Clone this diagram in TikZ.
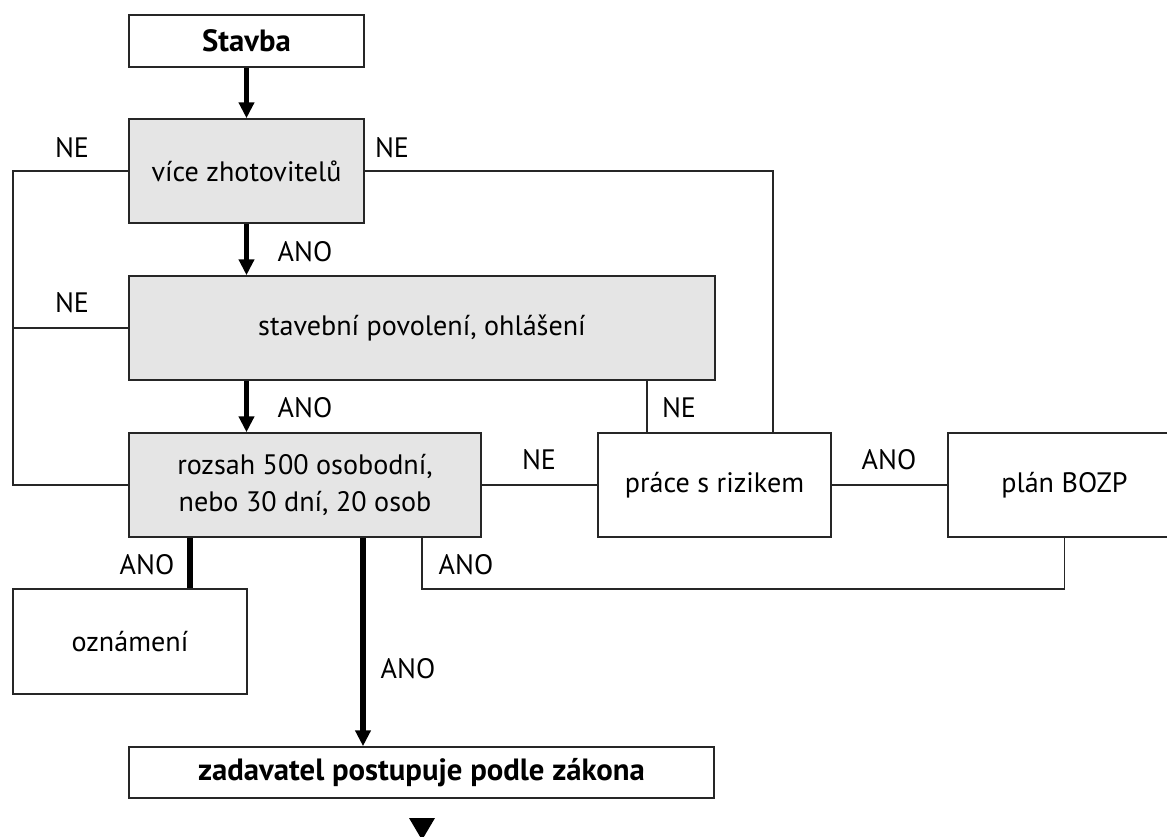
\documentclass[tikz,border=0pt]{standalone}
\usepackage{fontspec}
\setmainfont{PT Sans}
\usetikzlibrary{arrows.meta}

\begin{document}
\begin{tikzpicture}[x=0.02cm,y=-0.02cm,
    box/.style={draw=black!85,line width=0.9pt,fill=white,inner sep=2pt,align=center,font=\fontsize{16}{21}\selectfont},
    test/.style={box,fill=black!10},
    flow/.style={line width=3pt,-{Triangle[width=8.5pt,length=9pt]}},
    bar/.style={line width=3pt},
    link/.style={draw=black!85,line width=0.9pt},
    lbl/.style={font=\fontsize{16}{21}\selectfont}]
    \useasboundingbox (0,0) rectangle (1167,837);
    \clip (0,0) rectangle (1167,837);
    % boxes
    \node[box,minimum width=4.7cm,minimum height=1.04cm] (stavba) at (246.5,41) {\fontsize{17.5}{21}\bfseries Stavba};
    \node[test,minimum width=4.7cm,minimum height=2.08cm] (vice) at (246.5,171) {více zhotovitelů};
    \node[test,minimum width=11.72cm,minimum height=2.08cm] (stavebni) at (422,328) {stavební povolení, ohlášení};
    \node[test,minimum width=7.04cm,minimum height=2.08cm] (rozsah) at (305,485) {rozsah 500 osobodní,\\nebo 30 dní, 20 osob};
    \node[box,minimum width=4.66cm,minimum height=2.08cm] (prace) at (714.5,485) {práce s rizikem};
    \node[box,minimum width=4.66cm,minimum height=2.08cm] (plan) at (1064.5,485) {plán BOZP};
    \node[box,minimum width=4.68cm,minimum height=2.1cm] (oznameni) at (130,641.5) {oznámení};
    \node[box,minimum width=11.7cm,minimum height=1.02cm] (zadavatel) at (421.5,772.5) {\fontsize{17.5}{21}\bfseries zadavatel postupuje podle zákona};
    % helper points
    \coordinate (wl) at (13,171);
    \coordinate (vr) at (773,0);
    \coordinate (sn) at (647,0);
    \coordinate (ab) at (422,589);
    \coordinate (oz) at (190,0);
    \coordinate (zd) at (363,0);
    % main flow
    \draw[flow] (stavba) -- (vice);
    \draw[flow] (vice.south) -- (vice.south |- stavebni.north);
    \draw[flow] (vice.south |- stavebni.south) -- (vice.south |- rozsah.north);
    \draw[bar] (oz |- rozsah.south) -- (oz |- oznameni.north);
    \draw[flow] (zd |- rozsah.south) -- (zd |- zadavatel.north);
    % side branches
    \draw[link] (vice.west) -- (wl) |- (rozsah.west);
    \draw[link] (stavebni.west) -- (wl |- stavebni.west);
    \draw[link] (vice.east) -| (vr |- prace.north);
    \draw[link] (sn |- stavebni.south) -- (sn |- prace.north);
    \draw[link] (rozsah) -- (prace);
    \draw[link] (prace) -- (plan);
    \draw[link] (plan.south) |- (ab) -- (ab |- rozsah.south);
    \fill (409,818) -- (435,818) -- (422,840) -- cycle;
    % labels
    \node[lbl] (ne1) at (72,148) {NE};
    \node[lbl] (ne2) at (392,148) {NE};
    \node[lbl] (ano1) at (305,252) {ANO};
    \node[lbl] (ne3) at (72,303) {NE};
    \node[lbl] (ano2) at (305,408) {ANO};
    \node[lbl] (ne4) at (679,408) {NE};
    \node[lbl] (ne5) at (539,460) {NE};
    \node[lbl] (ano3) at (889,460) {ANO};
    \node[lbl] (ano4) at (147,565) {ANO};
    \node[lbl] (ano5) at (466,565) {ANO};
    \node[lbl] (ano6) at (408,669) {ANO};
\end{tikzpicture}
\end{document}
